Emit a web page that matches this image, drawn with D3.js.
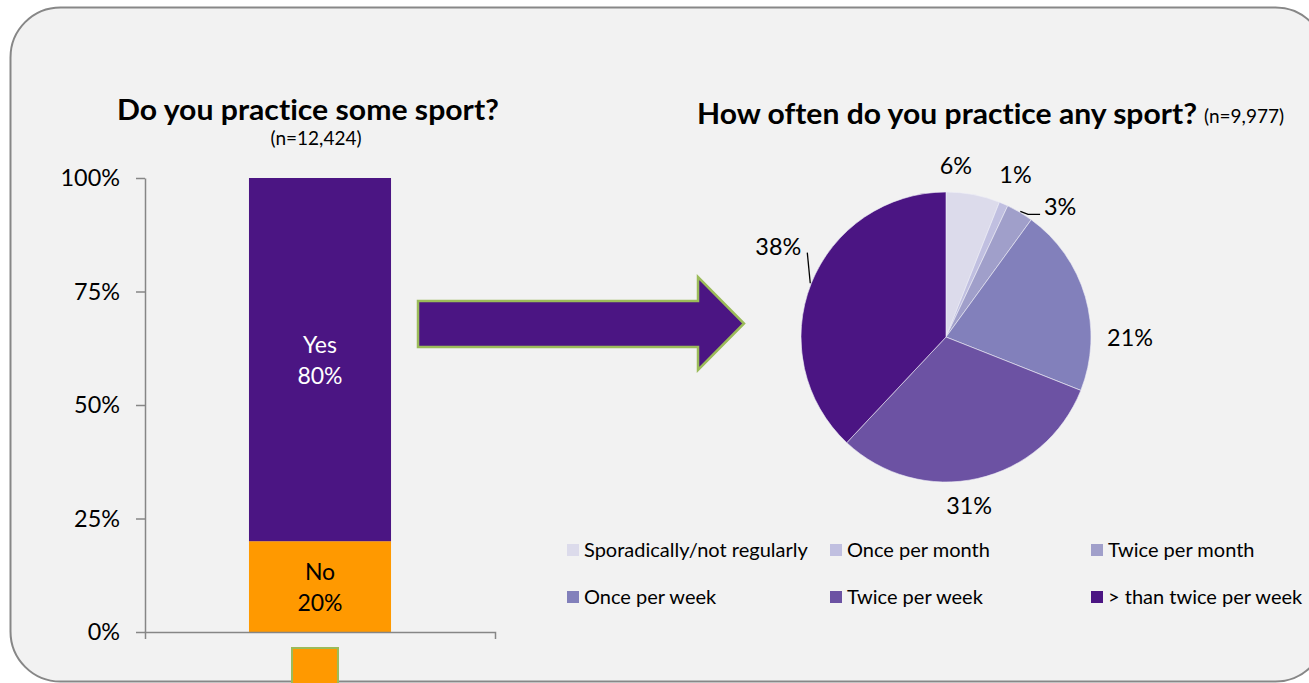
<!DOCTYPE html>
<html><head><meta charset="utf-8">
<script src="https://cdn.jsdelivr.net/npm/d3@7"></script>
<style>
html,body{margin:0;padding:0;background:#fff;}
svg{display:block;font-family:Lato,"Open Sans",sans-serif;font-variant-ligatures:none;font-feature-settings:"liga" 0;}
</style>
</head><body>
<svg id="c" width="1309" height="683"></svg>
<script>
// ---------- data ----------
const barCategories = ["No", "Yes"];
const barValues = [20, 80];
const yTickValues = [0, 25, 50, 75, 100];
const pieCategories = ["Sporadically/not regularly", "Once per month", "Twice per month",
                       "Once per week", "Twice per week", "> than twice per week"];
const pieValues = [6, 1, 3, 21, 31, 38];
const leftTitle = "Do you practice some sport?";
const leftN = "(n=12,424)";
const rightTitle = "How often do you practice any sport?";
const rightN = "(n=9,977)";

// ---------- styles / layout ----------
const barColors = {"No": "#ff9900", "Yes": "#4b1583"};
const barTextColors = {"No": "#000", "Yes": "#fff"};
const pieColors = ["#dcdbeb", "#c0bfe0", "#a09fca", "#8280bb", "#6c52a3", "#4b1583"];
const axisColor = "#868686";
const arrowStroke = "#9bbb59";

const svg = d3.select("#c");

// panel background
svg.append("rect").attr("x", 10.5).attr("y", 7.5).attr("width", 1315).attr("height", 674)
  .attr("rx", 50).attr("ry", 50).attr("fill", "#f2f2f2").attr("stroke", "#878787").attr("stroke-width", 2);

// ---------- left: stacked bar ----------
const plot = {left: 145, right: 495, top: 178, bottom: 632};
const x = d3.scaleBand().domain([""]).range([plot.left, plot.right]).paddingInner(0).paddingOuter(0.732);
const y = d3.scaleLinear().domain([0, 100]).range([plot.bottom, plot.top]);

const row = {};
barCategories.forEach((c, i) => row[c] = barValues[i]);
const stack = d3.stack().keys(barCategories)([row]);

const gBar = svg.append("g");
gBar.selectAll("rect").data(stack).join("rect")
  .attr("x", x(""))
  .attr("width", x.bandwidth())
  .attr("y", d => y(d[0][1]))
  .attr("height", d => y(d[0][0]) - y(d[0][1]))
  .attr("fill", d => barColors[d.key]);

stack.forEach(s => {
  const cy = (y(s[0][0]) + y(s[0][1])) / 2;
  const t = gBar.append("text").attr("text-anchor", "middle").attr("font-size", 23)
    .attr("fill", barTextColors[s.key]);
  t.append("tspan").attr("x", x("") + x.bandwidth() / 2).attr("y", cy - 15).attr("dy", "0.35em").text(s.key);
  t.append("tspan").attr("x", x("") + x.bandwidth() / 2).attr("y", cy + 16).attr("dy", "0.35em")
    .text(row[s.key] + "%");
});

// axes
const yAxis = svg.append("g").attr("transform", `translate(${plot.left},0)`)
  .call(d3.axisLeft(y).tickValues(yTickValues).tickFormat(d => d + "%").tickSize(9).tickSizeOuter(0).tickPadding(16));
const xAxis = svg.append("g").attr("transform", `translate(0,${plot.bottom})`)
  .call(d3.axisBottom(x).tickSize(0).tickSizeOuter(7).tickFormat(""));
[yAxis, xAxis].forEach(g => {
  g.selectAll("path,line").attr("stroke", axisColor).attr("stroke-width", 1.5);
  g.selectAll("text").attr("font-size", 23.4).attr("fill", "#000").attr("font-family", "Lato,sans-serif");
});

// left titles
svg.append("text").attr("x", 308).attr("y", 120).attr("text-anchor", "middle")
  .attr("font-size", 28).attr("font-weight", "bold").attr("fill", "#000")
  .attr("textLength", 382).attr("lengthAdjust", "spacingAndGlyphs").text(leftTitle);
svg.append("text").attr("x", 316).attr("y", 145).attr("text-anchor", "middle")
  .attr("font-size", 19).attr("fill", "#000").text(leftN);

// small legend-like orange square at bottom
svg.append("rect").attr("x", 292).attr("y", 648).attr("width", 46).attr("height", 50)
  .attr("fill", barColors["No"]).attr("stroke", arrowStroke).attr("stroke-width", 2);

// ---------- arrow ----------
const arrowPts = [[418, 301], [698, 301], [698, 277], [744, 323.5], [698, 370], [698, 347], [418, 347]];
svg.append("path").attr("d", d3.line()(arrowPts) + "Z")
  .attr("fill", barColors["Yes"]).attr("stroke", arrowStroke).attr("stroke-width", 2.5)
  .attr("stroke-linejoin", "miter");

// ---------- right: pie ----------
const cx = 946, cyP = 337, R = 145;
const pie = d3.pie().sort(null).value(d => d)(pieValues);
const arc = d3.arc().innerRadius(0).outerRadius(R);
const labelArc = d3.arc().innerRadius(175).outerRadius(175);
const edgeArc = d3.arc().innerRadius(R + 1).outerRadius(R + 1);
const gPie = svg.append("g").attr("transform", `translate(${cx},${cyP})`);
gPie.selectAll("path").data(pie).join("path")
  .attr("d", arc).attr("fill", (d, i) => pieColors[i])
  .attr("stroke", "#eeeef6").attr("stroke-width", 0.6);

const labelNudge = [[-23, 1], [0, -2], [25, 20], [16, 50], [-15, -2], [-5, -26]];
const labelPos = pie.map((d, i) => {
  const c = labelArc.centroid(d);
  return [c[0] + labelNudge[i][0], c[1] + labelNudge[i][1]];
});
gPie.selectAll("text.pl").data(pie).join("text").attr("class", "pl")
  .attr("x", (d, i) => labelPos[i][0]).attr("y", (d, i) => labelPos[i][1])
  .attr("dy", "0.35em").attr("text-anchor", "middle").attr("font-size", 23.4).attr("fill", "#000")
  .text(d => d.data + "%");

// leader lines
const leaders = {
  2: (e, L) => [e, [L[0] - 32, L[1] + 8], [L[0] - 20, L[1] + 8]],
  5: (e, L) => [e, [L[0] + 29, L[1] + 6]]
};
Object.keys(leaders).forEach(k => {
  const i = +k;
  const e = edgeArc.centroid(pie[i]);
  gPie.append("path").attr("d", d3.line()(leaders[k](e, labelPos[i])))
    .attr("fill", "none").attr("stroke", "#000").attr("stroke-width", 1.3);
});

// right titles
svg.append("text").attr("x", 697).attr("y", 124)
  .attr("font-size", 28).attr("font-weight", "bold").attr("fill", "#000")
  .attr("textLength", 500).attr("lengthAdjust", "spacingAndGlyphs").text(rightTitle);
svg.append("text").attr("x", 1204).attr("y", 123)
  .attr("font-size", 19).attr("fill", "#000").text(rightN);

// legend
const legendCols = [584, 847, 1108];
const legendRows = [550, 597];
const gLeg = svg.append("g");
pieCategories.forEach((name, i) => {
  const lx = legendCols[i % 3], ly = legendRows[Math.floor(i / 3)];
  gLeg.append("rect").attr("x", lx - 17).attr("y", ly - 6).attr("width", 12).attr("height", 12)
    .attr("fill", pieColors[i]);
  gLeg.append("text").attr("x", lx).attr("y", ly).attr("dy", "0.35em")
    .attr("font-size", 20).attr("fill", "#000").text(name);
});
</script>
</body></html>
